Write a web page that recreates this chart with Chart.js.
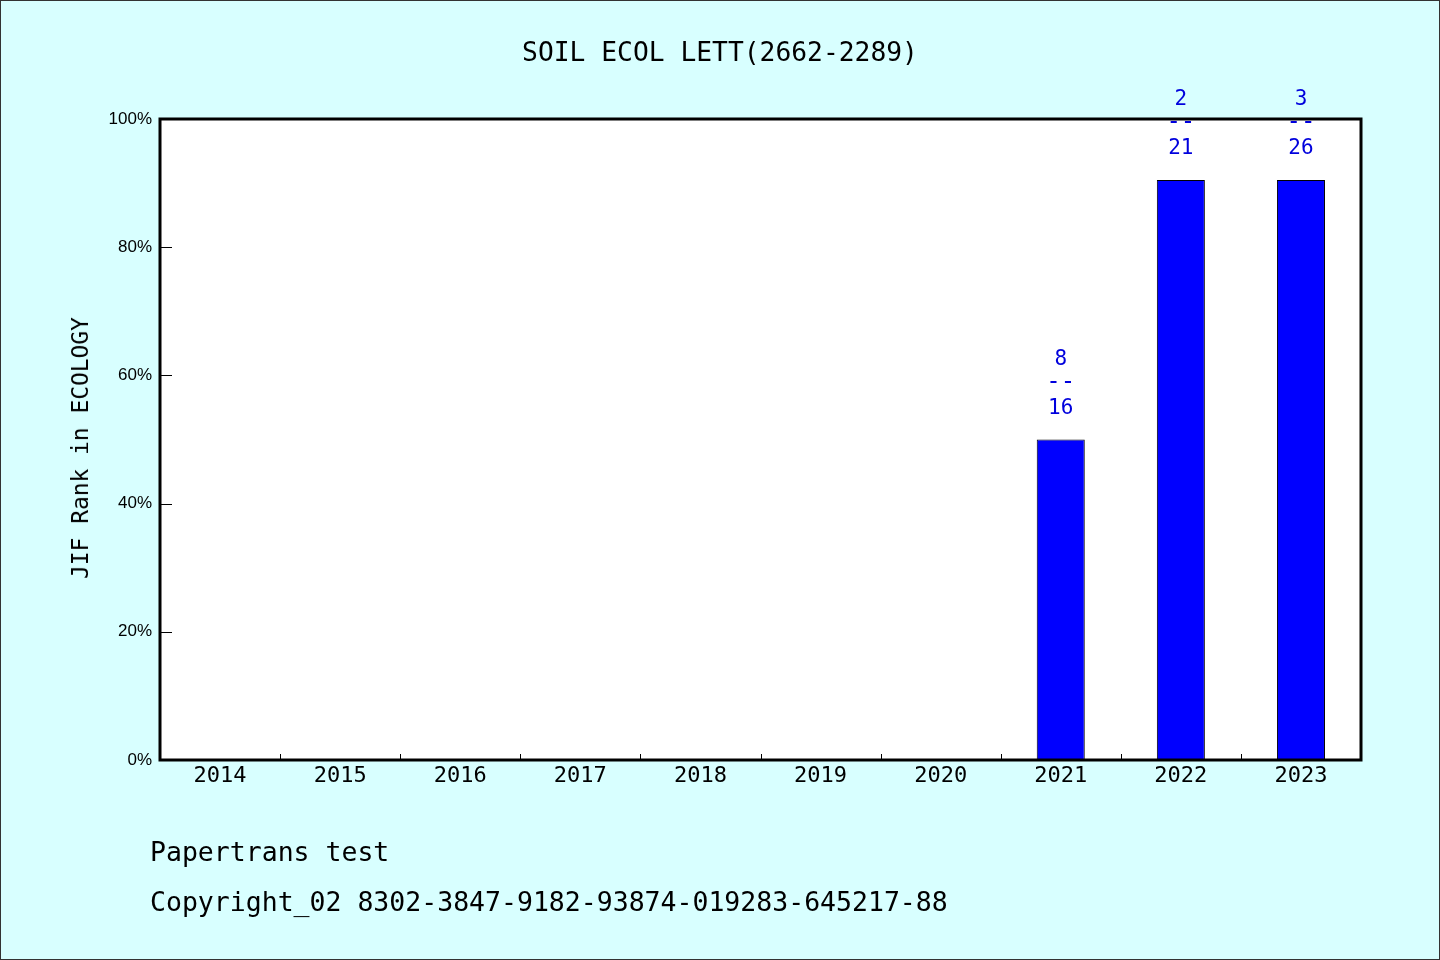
<!DOCTYPE html>
<html>
<head>
<meta charset="utf-8">
<script src="https://cdn.jsdelivr.net/npm/chart.js@4/dist/chart.umd.min.js"></script>
<style>
  html, body { margin: 0; padding: 0; background: #d8ffff; }
  #wrap { position: relative; width: 1440px; height: 960px; }
  .txt { position: absolute; font-family: "DejaVu Sans Mono", monospace; color: #000; white-space: pre; line-height: 30px; }
  .foot { left: 150px; font-size: 26.5px; }
  #titulo { left: 0; width: 1440px; top: 37px; text-align: center; font-size: 26.3px; }
  #eixoY { left: 80px; top: 448px; font-size: 22.9px; transform: translate(-50%, -50%) rotate(-90deg); }
</style>
</head>
<body>
<div id="wrap">
  <canvas id="grafico" width="1440" height="960"></canvas>
  <div class="txt" id="titulo">SOIL ECOL LETT(2662-2289)</div>
  <div class="txt" id="eixoY">JIF Rank in ECOLOGY</div>
  <div class="txt foot" style="top:837px">Papertrans test</div>
  <div class="txt foot" style="top:887px">Copyright_02 8302-3847-9182-93874-019283-645217-88</div>
</div>
<script>
// dados
const anos = ['2014', '2015', '2016', '2017', '2018', '2019', '2020', '2021', '2022', '2023'];
const percentis = [null, null, null, null, null, null, null, 50, 90.5, 90.5];
const posicoes = [null, null, null, null, null, null, null, 8, 2, 3];
const totais = [null, null, null, null, null, null, null, 16, 21, 26];
const ticksY = [0, 20, 40, 60, 80, 100];

const MONO = '"DejaVu Sans Mono", monospace';

// fundo, moldura e marcas dos eixos
const moldura = {
  id: 'moldura',
  beforeDraw(chart) {
    const ctx = chart.ctx;
    ctx.save();
    ctx.fillStyle = '#d8ffff';
    ctx.fillRect(0, 0, chart.width, chart.height);
    ctx.strokeStyle = '#333';
    ctx.lineWidth = 1;
    ctx.strokeRect(0.5, 0.5, chart.width - 1, chart.height - 1);
    const a = chart.chartArea;
    ctx.fillStyle = '#fff';
    ctx.fillRect(a.left, a.top, a.right - a.left, a.bottom - a.top);
    ctx.restore();
  },
  afterDatasetsDraw(chart) {
    const ctx = chart.ctx;
    const a = chart.chartArea;
    const x = chart.scales.x, y = chart.scales.y;
    ctx.save();
    ctx.strokeStyle = '#000';
    ctx.lineWidth = 1;
    ticksY.forEach(v => {
      const py = Math.round(y.getPixelForValue(v)) + 0.5;
      ctx.beginPath();
      ctx.moveTo(a.left, py);
      ctx.lineTo(a.left + 12, py);
      ctx.stroke();
    });
    for (let i = 1; i < anos.length; i++) {
      const px = Math.round((x.getPixelForValue(i - 1) + x.getPixelForValue(i)) / 2) + 0.5;
      ctx.beginPath();
      ctx.moveTo(px, a.bottom);
      ctx.lineTo(px, a.bottom - 6);
      ctx.stroke();
    }
    ctx.lineWidth = 3;
    ctx.strokeRect(a.left, a.top, a.right - a.left, a.bottom - a.top);

    // rotulos das barras: posicao / total
    ctx.fillStyle = '#0000dd';
    ctx.textAlign = 'center';
    ctx.textBaseline = 'middle';
    percentis.forEach((v, i) => {
      if (v === null) return;
      const px = x.getPixelForValue(i);
      const py = y.getPixelForValue(v);
      ctx.font = '21px ' + MONO;
      ctx.fillText(String(posicoes[i]), px, py - 80);
      ctx.fillText(String(totais[i]), px, py - 31);
      ctx.font = '24px ' + MONO;
      ctx.fillText('--', px, py - 57);
    });
    ctx.restore();
  }
};

const ctxBarras = document.getElementById('grafico').getContext('2d');
new Chart(ctxBarras, {
  type: 'bar',
  data: {
    labels: anos,
    datasets: [{
      label: 'JIF Rank',
      data: percentis,
      backgroundColor: '#0000ff',
      borderColor: '#000',
      borderWidth: 1,
      categoryPercentage: 1,
      barPercentage: 0.4
    }]
  },
  options: {
    responsive: false,
    animation: false,
    layout: { padding: { left: 0, right: 79, top: 119, bottom: 160 } },
    plugins: {
      legend: { display: false },
      tooltip: { enabled: false },
      title: { display: false }
    },
    scales: {
      x: {
        grid: { display: false, drawTicks: false },
        border: { display: false },
        ticks: { color: '#000', font: { family: MONO, size: 22 }, padding: 3, maxRotation: 0 },
        afterFit(s) { s.height = 40; }
      },
      y: {
        min: 0,
        max: 100,
        afterBuildTicks(s) { s.ticks = ticksY.map(v => ({ value: v })); },
        grid: { display: false, drawTicks: false },
        border: { display: false },
        ticks: { color: '#000', font: { family: 'Liberation Sans', size: 17 }, padding: 8, callback: v => v + '%' },
        afterFit(s) { s.width = 160; }
      }
    }
  },
  plugins: [moldura]
});
</script>
</body>
</html>
